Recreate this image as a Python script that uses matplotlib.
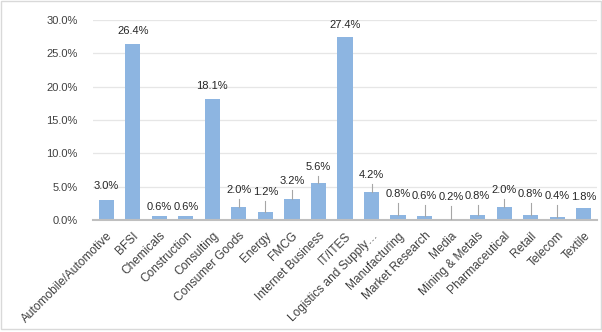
import matplotlib
matplotlib.use("Agg")
import matplotlib.pyplot as plt
from matplotlib.patches import Rectangle
from matplotlib.ticker import PercentFormatter

sectors = [
    "Automobile/Automotive", "BFSI", "Chemicals", "Construction", "Consulting",
    "Consumer Goods", "Energy", "FMCG", "Internet Business", "IT/ITES",
    "Logistics and Supply\u2026", "Manufacturing", "Market Research", "Media",
    "Mining & Metals", "Pharmaceutical", "Retail", "Telecom", "Textile",
]
share = [3.0, 26.4, 0.6, 0.6, 18.1, 2.0, 1.2, 3.2, 5.6, 27.4,
         4.2, 0.8, 0.6, 0.2, 0.8, 2.0, 0.8, 0.4, 1.8]

# where each data label sits (text centre, in % units)
label_y = [5.1, 28.35, 1.95, 1.95, 20.1, 4.5, 4.2, 5.85, 7.95, 29.25,
           6.75, 3.9, 3.6, 3.45, 3.6, 4.5, 3.9, 3.6, 3.45]

plt.rcParams["font.family"] = ["Liberation Sans", "DejaVu Sans"]
fs = 8

fig = plt.figure(figsize=(6.02, 3.32), dpi=100)
ax = fig.add_axes([93 / 602, 1 - 220 / 332, 504 / 602, 200 / 332])

x = range(len(sectors))
ax.bar(x, share, width=0.57, color="#8DB5E1", zorder=2)

for i, (v, ly) in enumerate(zip(share, label_y)):
    ax.text(i, ly, f"{v:.1f}%", ha="center", va="center", fontsize=fs,
            color="#262626", zorder=3)
    if ly - v > 2.3:
        ax.plot([i, i], [ly - 1.35, v], color="#A6A6A6", lw=0.8, zorder=3)

ax.set_xlim(-0.5, len(sectors) - 0.5)
ax.set_ylim(0, 30)
ax.set_yticks(range(0, 31, 5))
ax.yaxis.set_major_formatter(PercentFormatter(decimals=1))
ax.grid(axis="y", color="#E6E6E6", lw=0.9, zorder=0)
ax.set_axisbelow(True)

for s in ["top", "right", "left"]:
    ax.spines[s].set_visible(False)
ax.spines["bottom"].set_color("#BFBFBF")
ax.spines["bottom"].set_linewidth(1.5)

ax.tick_params(axis="y", length=0, pad=11, labelsize=fs, labelcolor="#404040")
ax.tick_params(axis="x", length=0, pad=7)
ax.set_xticks(list(x))
ax.set_xticklabels(sectors, rotation=45, ha="right", va="top",
                   rotation_mode="anchor", fontsize=8.6, color="#404040")

fig.patches.append(Rectangle((0.5 / 602, 3 / 332), 600 / 602, 328 / 332,
                             transform=fig.transFigure, fill=False,
                             edgecolor="#D9D9D9", lw=1))

fig.savefig("out.png", dpi=100)
